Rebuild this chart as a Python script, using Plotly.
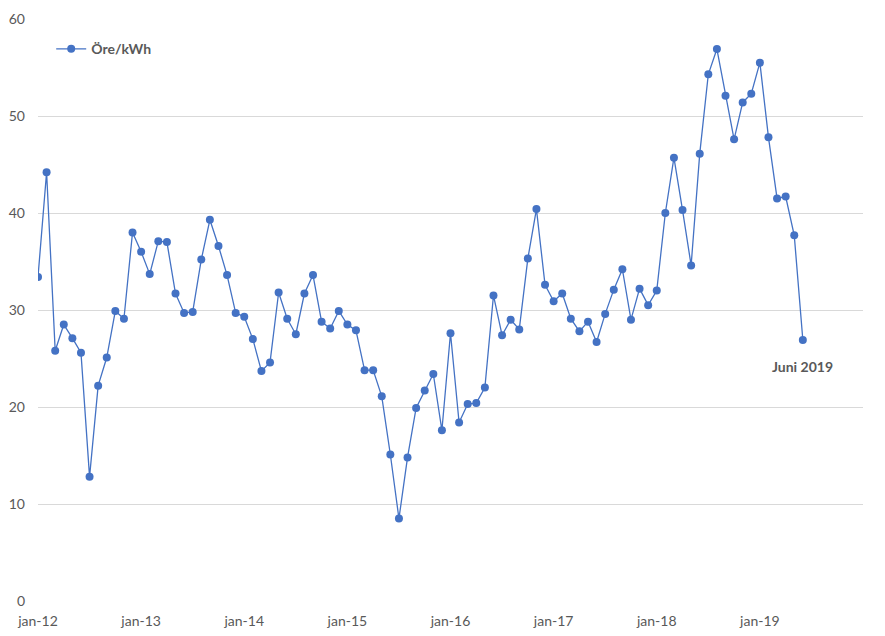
import plotly.graph_objects as go

# månader jan-12 .. jun-19
manader = ["jan", "feb", "mar", "apr", "maj", "jun", "jul", "aug", "sep", "okt", "nov", "dec"]
kategorier = [m + "-" + str(ar) for ar in range(12, 20) for m in manader][:90]

ore_kwh = [
    33.4, 44.2, 25.8, 28.5, 27.1, 25.6, 12.8, 22.2, 25.1, 29.9, 29.1, 38.0,
    36.0, 33.7, 37.1, 37.0, 31.7, 29.7, 29.8, 35.2, 39.3, 36.6, 33.6, 29.7,
    29.3, 27.0, 23.7, 24.6, 31.8, 29.1, 27.5, 31.7, 33.6, 28.8, 28.1, 29.9,
    28.5, 27.9, 23.8, 23.8, 21.1, 15.1, 8.5, 14.8, 19.9, 21.7, 23.4, 17.6,
    27.6, 18.4, 20.3, 20.4, 22.0, 31.5, 27.4, 29.0, 28.0, 35.3, 40.4, 32.6,
    30.9, 31.7, 29.1, 27.8, 28.8, 26.7, 29.6, 32.1, 34.2, 29.0, 32.2, 30.5,
    32.0, 40.0, 45.7, 40.3, 34.6, 46.1, 54.3, 56.9, 52.1, 47.6, 51.4, 52.3,
    55.5, 47.8, 41.5, 41.7, 37.7, 26.9,
]

tick_etiketter = ["jan-12", "jan-13", "jan-14", "jan-15", "jan-16", "jan-17", "jan-18", "jan-19"]

bla = "#4472C4"
gra = "#595959"
font_namn = "Lato, Open Sans, sans-serif"

fig = go.Figure()
fig.add_trace(go.Scatter(
    x=kategorier, y=ore_kwh, mode="lines+markers", name="<b>Öre/kWh</b>",
    line=dict(color=bla, width=1.3),
    marker=dict(color=bla, size=8),
))

fig.add_annotation(
    x=kategorier[-1], y=ore_kwh[-1], text="<b>Juni 2019</b>",
    showarrow=False, xanchor="center", yanchor="top", yshift=-16,
    font=dict(size=14, color=gra, family=font_namn),
)

# sidan har 8px marginal i webbläsaren, så figuren görs lite mindre
fig.update_layout(
    width=869, height=620,
    margin=dict(l=30, r=14, t=11, b=27),
    plot_bgcolor="white", paper_bgcolor="white",
    font=dict(family=font_namn, size=14, color=gra),
    showlegend=True,
    legend=dict(
        x=0.016, y=0.948, xanchor="left", yanchor="middle",
        bgcolor="rgba(0,0,0,0)",
        font=dict(size=14, color=gra, family=font_namn),
    ),
    xaxis=dict(
        type="category",
        range=[0, 96],
        tickmode="array", tickvals=tick_etiketter, ticktext=tick_etiketter,
        showgrid=False, showline=False, zeroline=False,
        tickfont=dict(size=14, color=gra),
        ticklabelstandoff=10,
        automargin=False,
    ),
    yaxis=dict(
        range=[0, 60], dtick=10,
        showgrid=True, gridcolor="#D9D9D9", gridwidth=1,
        zeroline=False, showline=False,
        tickfont=dict(size=14, color=gra),
        ticklabelstandoff=12,
        automargin=False,
    ),
)

fig.write_html("out.html")
